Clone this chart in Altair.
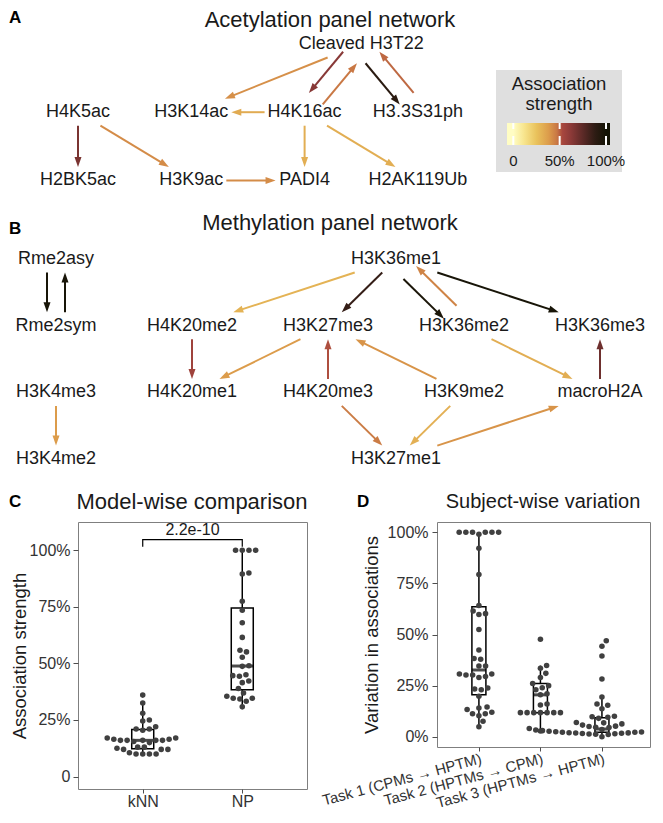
import math
import json
import pandas as pd
import altair as alt

FONT = "Liberation Sans"
INK = "#1a1a1a"
DOT = "#404040"
GRAYTXT = "#333333"

# ---------------- A. Acetylation panel network ----------------
ace_nodes = ["Cleaved H3T22", "H4K5ac", "H3K14ac", "H4K16ac", "H3.3S31ph",
             "H2BK5ac", "H3K9ac", "PADI4", "H2AK119Ub"]
ace_col = [2.5, 0, 1, 2, 3, 0, 1, 2, 3]
ace_row = [0, 1, 1, 1, 1, 2, 2, 2, 2]
ace_from = ["Cleaved H3T22", "Cleaved H3T22", "H4K16ac", "Cleaved H3T22", "H3.3S31ph",
            "H4K16ac", "H4K5ac", "H4K5ac", "H3K9ac", "H4K16ac", "H4K16ac"]
ace_to = ["H3K14ac", "H4K16ac", "Cleaved H3T22", "H3.3S31ph", "Cleaved H3T22",
          "H3K14ac", "H2BK5ac", "H3K9ac", "PADI4", "PADI4", "H2AK119Ub"]
ace_strength = [0.41, 0.63, 0.47, 0.90, 0.49, 0.33, 0.67, 0.42, 0.42, 0.32, 0.32]

# ---------------- B. Methylation panel network ----------------
met_nodes = ["Rme2asy", "H3K36me1", "Rme2sym", "H4K20me2", "H3K27me3", "H3K36me2",
             "H3K36me3", "H3K4me3", "H4K20me1", "H4K20me3", "H3K9me2", "macroH2A",
             "H3K4me2", "H3K27me1"]
met_col = [0, 2.5, 0, 1, 2, 3, 4, 0, 1, 2, 3, 4, 0, 2.5]
met_row = [0, 0, 1, 1, 1, 1, 1, 2, 2, 2, 2, 2, 3, 3]
met_from = ["Rme2asy", "Rme2sym", "H3K4me3", "H3K36me1", "H4K20me2", "H3K27me3",
            "H4K20me3", "H3K36me1", "H3K36me1", "H3K36me2", "H3K36me1", "H3K9me2",
            "H3K36me2", "macroH2A", "H4K20me3", "H3K9me2", "H3K27me1"]
met_to = ["Rme2sym", "Rme2asy", "H3K4me2", "H4K20me2", "H4K20me1", "H4K20me1",
          "H3K27me3", "H3K27me3", "H3K36me2", "H3K36me1", "H3K36me3", "H3K27me3",
          "macroH2A", "H3K36me3", "H3K27me1", "H3K27me1", "macroH2A"]
met_strength = [0.98, 0.98, 0.38, 0.30, 0.56, 0.38, 0.52, 0.86, 0.97, 0.44, 0.98, 0.40,
                0.32, 0.70, 0.46, 0.31, 0.40]

# ---------------- C. Model-wise comparison ----------------
c_groups = ["kNN", "NP"]
c_knn = [0.36, 0.325, 0.28, 0.25, 0.245, 0.22, 0.21, 0.21, 0.205, 0.17, 0.17, 0.165,
         0.165, 0.16, 0.16, 0.16, 0.16, 0.16, 0.155, 0.15, 0.13, 0.13, 0.125, 0.12,
         0.12, 0.12, 0.105, 0.10, 0.10, 0.10, 0.10]
c_np = [1.0, 1.0, 1.0, 1.0, 0.90, 0.895, 0.775, 0.735, 0.68, 0.615, 0.558, 0.551,
        0.527, 0.49, 0.487, 0.45, 0.446, 0.443, 0.422, 0.415, 0.389, 0.369, 0.355,
        0.346, 0.346, 0.343, 0.333, 0.308]
c_pvalue = "2.2e-10"

# ---------------- D. Subject-wise variation ----------------
d_groups = ["Task 1 (CPMs \u2192 HPTM)", "Task 2 (HPTMs \u2192 CPM)", "Task 3 (HPTMs \u2192 HPTM)"]
d_task1 = [1.0, 1.0, 1.0, 1.0, 1.0, 1.0, 0.99, 0.922, 0.793, 0.642, 0.615, 0.602, 0.598,
           0.524, 0.424, 0.383, 0.379, 0.346, 0.346, 0.307, 0.307, 0.302, 0.302, 0.295,
           0.29, 0.238, 0.234, 0.23, 0.198, 0.146, 0.141, 0.133, 0.12, 0.113, 0.113,
           0.103, 0.076, 0.049]
d_task2 = [0.477, 0.348, 0.335, 0.31, 0.29, 0.26, 0.25, 0.24, 0.23, 0.21, 0.205, 0.16,
           0.155, 0.118, 0.118, 0.118, 0.118, 0.118, 0.118, 0.118, 0.028]
d_task3 = [0.469, 0.443, 0.395, 0.282, 0.194, 0.16, 0.154, 0.137, 0.10, 0.098, 0.095,
           0.09, 0.07, 0.068, 0.063, 0.057, 0.052, 0.05, 0.047, 0.045, 0.04, 0.038,
           0.035, 0.033, 0.03, 0.03, 0.028, 0.027, 0.025, 0.025, 0.023, 0.022, 0.022,
           0.02, 0.019, 0.018, 0.017, 0.016, 0.015, 0.014, 0.012, 0.011, 0.0]

# ---------------- colour scale of association strength ----------------
strength_stops = [0.0, 0.12, 0.25, 0.38, 0.47, 0.53, 0.62, 0.75, 0.88, 1.0]
strength_colors = ["#FFFDC4", "#F7E48C", "#E9C25C", "#DC9C4B", "#C97844", "#A8473E",
                   "#8C3A38", "#5C2A27", "#2E1C14", "#141405"]
legend_values = [0.0, 0.5, 1.0]
legend_labels = ["0", "50%", "100%"]
cscale = alt.Scale(domain=strength_stops, range=strength_colors, interpolate="rgb")

# ---------------- layout constants (figure pixels) ----------------
NODE_FS = 18
ACE_ORIGIN, ACE_STEP = (78.0, 43.0), (113.3, 68.2)
MET_ORIGIN, MET_STEP = (56.0, 258.0), (136.0, 66.7)
PAIR_OFFSET = 9.0
HALF_H = 13.5
PADX = 3.0
HEAD_R = 5.0
HEAD_PATH = "M0,-1L0.7,1L-0.7,1Z"

AW = {" ": 278, ".": 278, "(": 333, ")": 333, "%": 889, "-": 333}
for ch in "0123456789":
    AW[ch] = 556
AW.update(dict(A=667, B=667, C=722, D=722, E=667, F=611, G=778, H=722, I=278, J=500,
               K=667, L=556, M=833, N=722, O=778, P=667, Q=778, R=722, S=667, T=611,
               U=722, V=667, W=944, X=667, Y=667, Z=611))
AW.update(dict(a=556, b=556, c=500, d=556, e=556, f=278, g=556, h=556, i=222, j=222,
               k=500, l=222, m=833, n=556, o=556, p=556, q=556, r=333, s=500, t=278,
               u=556, v=500, w=722, x=500, y=500, z=500))


def text_w(s, fs):
    return sum(AW.get(c, 556) for c in s) * fs / 1000.0


def build_network(nodes, cols, rows, origin, step, src, dst, strength):
    pos = {n: (origin[0] + c * step[0], origin[1] + r * step[1])
           for n, c, r in zip(nodes, cols, rows)}
    wid = {n: text_w(n, NODE_FS) for n in nodes}
    pairs = set(zip(src, dst))
    edges, heads = [], []
    for s, t, w in zip(src, dst, strength):
        (x0, y0), (x1, y1) = pos[s], pos[t]
        dx, dy = x1 - x0, y1 - y0
        L = math.hypot(dx, dy)
        ux, uy = dx / L, dy / L
        off = PAIR_OFFSET if (t, s) in pairs else 0.0
        nx, ny = -uy, ux
        x0, y0, x1, y1 = x0 + off * nx, y0 + off * ny, x1 + off * nx, y1 + off * ny

        def tcut(hw, hh):
            a = hw / abs(dx) if abs(dx) > 1e-9 else 1e9
            b = hh / abs(dy) if abs(dy) > 1e-9 else 1e9
            return min(a, b)

        ts = tcut(wid[s] / 2 + PADX, HALF_H)
        te = tcut(wid[t] / 2 + PADX, HALF_H)
        sx, sy = x0 + ts * dx, y0 + ts * dy
        tx, ty = x1 - te * dx, y1 - te * dy
        hx, hy = tx - HEAD_R * ux, ty - HEAD_R * uy
        ang = math.degrees(math.atan2(ux, -uy)) % 360
        edges.append(dict(x=sx, y=sy, x2=hx, y2=hy, strength=w))
        heads.append(dict(x=hx, y=hy, angle=ang, strength=w))
    nd = pd.DataFrame(dict(x=[pos[n][0] for n in nodes], y=[pos[n][1] for n in nodes],
                           label=nodes))
    return pd.DataFrame(edges), pd.DataFrame(heads), nd


ae, ah, an = build_network(ace_nodes, ace_col, ace_row, ACE_ORIGIN, ACE_STEP,
                           ace_from, ace_to, ace_strength)
me, mh, mn = build_network(met_nodes, met_col, met_row, MET_ORIGIN, MET_STEP,
                           met_from, met_to, met_strength)
edges_df = pd.concat([ae, me], ignore_index=True)
heads_df = pd.concat([ah, mh], ignore_index=True)
nodes_df = pd.concat([an, mn], ignore_index=True)

# The network block is drawn above panel C, in figure pixel units.
NET_W, NET_H = 655, 513      # figure area x 8..663, y 8..521 (page pixels)
C_ORIGIN_X = 70              # width of panel C's left axis block
xs_net = alt.Scale(domain=[8, 8 + NET_W], range=[-C_ORIGIN_X, NET_W - C_ORIGIN_X],
                   nice=False, zero=False)
ys_net = alt.Scale(domain=[8, 8 + NET_H], range=[-NET_H, 0], nice=False, zero=False)


def NX(f):
    return alt.X(f, type="quantitative", scale=xs_net, axis=None)


def NY(f):
    return alt.Y(f, type="quantitative", scale=ys_net, axis=None)


edge_layer = alt.Chart(edges_df).mark_rule(strokeWidth=2).encode(
    x=NX("x"), y=NY("y"), x2="x2:Q", y2="y2:Q",
    color=alt.Color("strength:Q", scale=cscale, legend=None))
head_layer = alt.Chart(heads_df).mark_point(
    shape=HEAD_PATH, filled=True, size=(2 * HEAD_R) ** 2, opacity=1, strokeWidth=0).encode(
    x=NX("x"), y=NY("y"), angle=alt.Angle("angle:Q", scale=None),
    color=alt.Color("strength:Q", scale=cscale, legend=None))
node_layer = alt.Chart(nodes_df).mark_text(
    fontSize=NODE_FS, font=FONT, color=INK, align="center", baseline="middle").encode(
    x=NX("x"), y=NY("y"), text="label:N")

titles_df = pd.DataFrame(dict(
    t=["Acetylation panel network", "Methylation panel network",
       "Model-wise comparison", "Subject-wise variation"],
    x=[330, 330, 192, 543], y=[19, 222, 501, 501], fs=[22, 22, 22, 20]))
letters_df = pd.DataFrame(dict(t=["A", "B", "C", "D"], x=[9, 9, 9, 357], y=[17, 228, 501, 501]))
title_layer = alt.Chart(titles_df).mark_text(
    font=FONT, color=INK, align="center", baseline="middle").encode(
    x=NX("x"), y=NY("y"), text="t:N", size=alt.Size("fs:Q", scale=None))
letter_layer = alt.Chart(letters_df).mark_text(
    fontSize=17, font=FONT, fontWeight="bold", color="#000000", align="left",
    baseline="middle").encode(x=NX("x"), y=NY("y"), text="t:N")

# legend (association strength colour bar)
LEG_BOX = dict(x=[496], x2=[622], y=[69], y2=[171])
BAR = dict(x0=507.0, x1=610.0, y0=122.0, y1=144.0)
V0_X, PX_PER_V = 513.3, 92.7
bar_vmin = (BAR["x0"] - V0_X) / PX_PER_V
bar_vmax = (BAR["x1"] - V0_X) / PX_PER_V
stops = [alt.GradientStop(offset=0.0, color=strength_colors[0])]
for s, c in zip(strength_stops, strength_colors):
    stops.append(alt.GradientStop(offset=(s - bar_vmin) / (bar_vmax - bar_vmin), color=c))
stops.append(alt.GradientStop(offset=1.0, color=strength_colors[-1]))
grad = alt.LinearGradient(gradient="linear", stops=stops, x1=0, x2=1, y1=0, y2=0)

leg_bg = alt.Chart(pd.DataFrame(LEG_BOX)).mark_rect(color="#dfdfdf").encode(
    x=NX("x"), x2="x2:Q", y=NY("y"), y2="y2:Q")
leg_bar = alt.Chart(pd.DataFrame(dict(x=[BAR["x0"]], x2=[BAR["x1"]], y=[BAR["y0"]],
                                      y2=[BAR["y1"]]))).mark_rect(color=grad).encode(
    x=NX("x"), x2="x2:Q", y=NY("y"), y2="y2:Q")
tick_x = [V0_X + v * PX_PER_V for v in legend_values]
ticks_df = pd.DataFrame(dict(
    x=tick_x * 2,
    y=[BAR["y0"]] * 3 + [BAR["y1"] - 9] * 3,
    y2=[BAR["y0"] + 6] * 3 + [BAR["y1"]] * 3))
leg_ticks = alt.Chart(ticks_df).mark_rule(color="white", strokeWidth=2).encode(
    x=NX("x"), y=NY("y"), y2="y2:Q")
leg_lab = alt.Chart(pd.DataFrame(dict(x=tick_x, y=[160] * 3, t=legend_labels))).mark_text(
    fontSize=15, font=FONT, color=INK, align="center", baseline="middle").encode(
    x=NX("x"), y=NY("y"), text="t:N")
leg_title = alt.Chart(pd.DataFrame(dict(x=[559, 559], y=[83, 103],
                                        t=["Association", "strength"]))).mark_text(
    fontSize=18.5, font=FONT, color=INK, align="center", baseline="middle").encode(
    x=NX("x"), y=NY("y"), text="t:N")

net_group = alt.layer(leg_bg, leg_bar, leg_ticks, leg_lab, leg_title, edge_layer,
                      head_layer, node_layer, title_layer, letter_layer)


# ---------------- beeswarm helper ----------------
def swarm(vals, px_per_val, d):
    y = [v * px_per_val for v in vals]
    order = sorted(range(len(y)), key=lambda i: y[i])
    xs = [0.0] * len(y)
    done = []
    for i in order:
        cands = [0.0]
        for j in done:
            dy = y[i] - y[j]
            if abs(dy) < d:
                dx = math.sqrt(d * d - dy * dy)
                cands += [xs[j] + dx, xs[j] - dx]
        cands.sort(key=abs)
        for c in cands:
            if all((c - xs[j]) ** 2 + (y[i] - y[j]) ** 2 >= d * d - 1e-6 for j in done):
                xs[i] = c
                break
        done.append(i)
    return xs


SWARM_D = 7.0
DOT_SIZE = 31

# ---------------- C chart ----------------
C_W, C_H = 229, 267
C_XD, C_YD = [0.4, 2.6], [-0.055, 1.125]
c_ppx = C_W / (C_XD[1] - C_XD[0])
c_ppy = C_H / (C_YD[1] - C_YD[0])
rows = []
for gi, vals in enumerate([c_knn, c_np]):
    offs = swarm(vals, c_ppy, SWARM_D)
    for v, o in zip(vals, offs):
        rows.append(dict(group=c_groups[gi], pos=gi + 1, v=v, xs=gi + 1 + o / c_ppx))
c_df = pd.DataFrame(rows)
xsC = alt.Scale(domain=C_XD, nice=False, zero=False)
ysC = alt.Scale(domain=C_YD, nice=False, zero=False)
c_label_expr = json.dumps(c_groups) + "[datum.value - 1]"
ax_cx = alt.Axis(values=[1, 2], labelExpr=c_label_expr, title=None, grid=False, domain=False,
                 tickSize=4, tickColor="#4d4d4d", labelColor=GRAYTXT, labelFontSize=16,
                 labelPadding=0, labelAngle=0, labelFont=FONT)
ax_cy = alt.Axis(values=[0, 0.25, 0.5, 0.75, 1.0],
                 labelExpr="datum.value == 0 ? '0' : format(datum.value, '.0%')",
                 title="Association strength", titleFontSize=18.5, titleFontWeight="normal",
                 titleColor=INK, titleFont=FONT, titlePadding=0, grid=False, domain=False,
                 tickSize=5, tickColor="#4d4d4d", labelColor=GRAYTXT, labelFontSize=16,
                 labelPadding=3, labelFont=FONT)

box_style = dict(box={"fill": "transparent", "stroke": "black", "strokeWidth": 1.5},
                 median={"color": "black", "thickness": 3},
                 rule={"color": "black", "strokeWidth": 1.5})
c_box = alt.Chart(c_df).mark_boxplot(orient="vertical", size=22, extent=1.5, outliers=False,
                                     color="black", **box_style).encode(
    x=alt.X("pos:Q", scale=xsC, axis=ax_cx), y=alt.Y("v:Q", scale=ysC, axis=ax_cy))
c_pts = alt.Chart(c_df).mark_circle(size=DOT_SIZE, color=DOT, opacity=1).encode(
    x=alt.X("xs:Q", scale=xsC, axis=ax_cx), y=alt.Y("v:Q", scale=ysC, axis=ax_cy))
bracket_df = pd.DataFrame(dict(x=[1, 1, 2, 2], y=[1.016, 1.047, 1.047, 1.016], o=[0, 1, 2, 3]))
c_br = alt.Chart(bracket_df).mark_line(color="black", strokeWidth=1.2).encode(
    x=alt.X("x:Q", scale=xsC, axis=ax_cx), y=alt.Y("y:Q", scale=ysC, axis=ax_cy), order="o:Q")
c_pt = alt.Chart(pd.DataFrame(dict(x=[1.5], y=[1.088], t=[c_pvalue]))).mark_text(
    fontSize=16, font=FONT, color=INK, baseline="middle").encode(
    x=alt.X("x:Q", scale=xsC, axis=ax_cx), y=alt.Y("y:Q", scale=ysC, axis=ax_cy), text="t:N")
c_group = alt.layer(c_box, c_pts, c_br, c_pt)

chart_c = alt.layer(net_group, c_group).resolve_scale(
    x="independent", y="independent").properties(
    width=C_W, height=C_H, view=alt.ViewBackground(stroke="#7f7f7f", strokeWidth=1))

# ---------------- D chart ----------------
D_W, D_H = 213, 225
D_XD, D_YD = [0.4, 3.7], [-0.05, 1.05]
d_ppx = D_W / (D_XD[1] - D_XD[0])
d_ppy = D_H / (D_YD[1] - D_YD[0])
rows = []
for gi, vals in enumerate([d_task1, d_task2, d_task3]):
    offs = swarm(vals, d_ppy, SWARM_D)
    for v, o in zip(vals, offs):
        rows.append(dict(group=d_groups[gi], pos=gi + 1, v=v, xs=gi + 1 + o / d_ppx))
d_df = pd.DataFrame(rows)
# dots whose centre falls past the panel's right edge are cut off in the figure
d_visible_max = D_XD[1] - 2.0 / d_ppx
xsD = alt.Scale(domain=D_XD, nice=False, zero=False)
ysD = alt.Scale(domain=D_YD, nice=False, zero=False)
d_label_expr = json.dumps(d_groups, ensure_ascii=False) + "[datum.value - 1]"
ax_dx = alt.Axis(values=[1, 2, 3], labelExpr=d_label_expr, title=None, grid=False,
                 domain=False, tickSize=4, tickColor="#4d4d4d", labelColor=GRAYTXT,
                 labelFontSize=15, labelPadding=0, labelAngle=345, labelAlign="right",
                 labelBaseline="top", labelFont=FONT, labelOverlap=False)
ax_dy = alt.Axis(values=[0, 0.25, 0.5, 0.75, 1.0], format=".0%",
                 title="Variation in associations", titleFontSize=18.5,
                 titleFontWeight="normal", titleColor=INK, titleFont=FONT, titlePadding=6,
                 grid=False, domain=False, tickSize=5, tickColor="#4d4d4d",
                 labelColor=GRAYTXT, labelFontSize=16, labelPadding=4, labelFont=FONT)
d_box = alt.Chart(d_df).mark_boxplot(orient="vertical", size=14, extent=1.5, outliers=False,
                                     color="black", **box_style).encode(
    x=alt.X("pos:Q", scale=xsD, axis=ax_dx), y=alt.Y("v:Q", scale=ysD, axis=ax_dy))
d_pts = alt.Chart(d_df).transform_filter(
    alt.datum.xs <= d_visible_max).mark_circle(
    size=DOT_SIZE, color=DOT, opacity=1, clip=True).encode(
    x=alt.X("xs:Q", scale=xsD, axis=ax_dx), y=alt.Y("v:Q", scale=ysD, axis=ax_dy))
chart_d = alt.layer(d_box, d_pts).properties(
    width=D_W, height=D_H, view=alt.ViewBackground(stroke="#7f7f7f", strokeWidth=1))

chart = alt.hconcat(chart_c, chart_d, spacing=130, bounds="flush", padding=0).configure(
    font=FONT, background="white")

chart.save("out.html", embed_options={"renderer": "svg", "actions": False})
